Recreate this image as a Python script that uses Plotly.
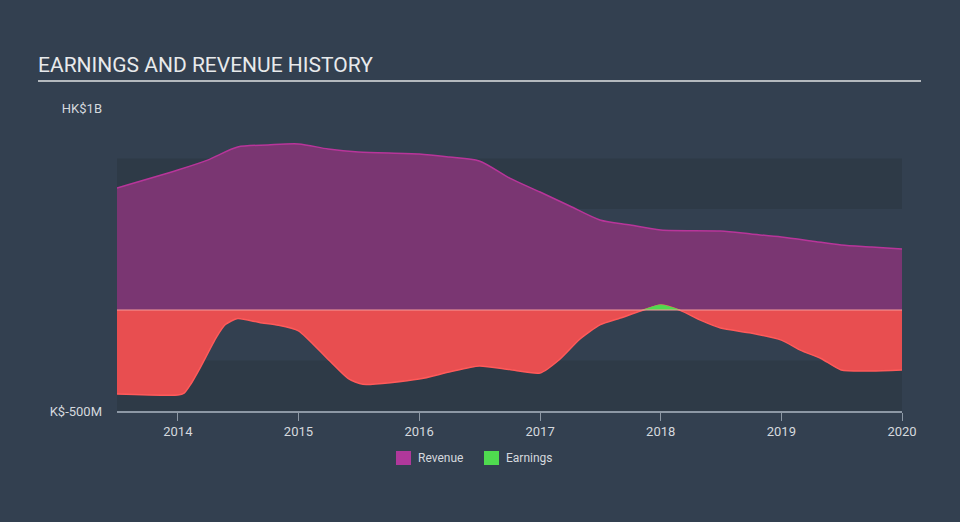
import plotly.graph_objects as go

rev_dates = ["2013-07-01", "2014-01-01", "2014-04-01", "2014-07-01", "2014-10-01", "2015-01-01",
             "2015-04-01", "2015-07-01", "2016-01-01", "2016-04-01", "2016-07-01", "2016-10-01",
             "2017-01-01", "2017-04-01", "2017-07-01", "2017-10-01", "2018-01-01", "2018-07-01",
             "2018-10-01", "2019-01-01", "2019-04-01", "2019-07-01", "2019-10-01", "2020-01-01"]
revenue = [604, 693, 742, 807, 817, 822, 797, 782, 772, 757, 738, 653,
           584, 515, 446, 421, 396, 391, 376, 361, 342, 322, 312, 302]

earn_dates = ["2013-07-01", "2014-01-01", "2014-01-20", "2014-02-10", "2014-03-10", "2014-04-28",
              "2014-05-25", "2014-07-01", "2014-09-05", "2014-11-01", "2015-01-01", "2015-04-01",
              "2015-06-01", "2015-07-15", "2016-01-01", "2016-04-01", "2016-07-01", "2016-10-01",
              "2017-01-01", "2017-03-01", "2017-05-01", "2017-07-01", "2017-09-01", "2017-11-01",
              "2018-01-01", "2018-03-01", "2018-05-01", "2018-07-01", "2018-10-01", "2019-01-01",
              "2019-03-01", "2019-05-01", "2019-07-01", "2019-10-01", "2020-01-01"]
earnings = [-416, -421, -412, -365, -285, -134, -72, -42, -62, -75, -103, -245,
            -340, -368, -342, -307, -277, -295, -312, -245, -145, -74, -40, -5,
            25, -2, -50, -89, -114, -149, -200, -240, -297, -302, -297]

year_ticks = ["2014-01-01", "2015-01-01", "2016-01-01", "2017-01-01", "2018-01-01", "2019-01-01", "2020-01-01"]
year_labels = ["2014", "2015", "2016", "2017", "2018", "2019", "2020"]
y_tickvals = [-500, 1000]
y_ticktext = ["K$-500M", "HK$1B"]
legend_names = ["Revenue", "Earnings"]

BG = "#334050"
BAND = "#2e3a47"
PURPLE_FILL = "#7a3672"
PURPLE_LINE = "#b8359a"
RED_FILL = "#e84e50"
RED_LINE = "#ff5a5a"
GREEN = "#4fdb4f"
LEGEND_COLORS = ["#b0389b", GREEN]

# plot area in pixels
L, R, T, B = 117, 902, 108, 411
W, H = R - L, B - T


def px(x):
    return (x - L) / W


def py(y):
    return (B - y) / H


fig = go.Figure()

fig.add_trace(go.Scatter(
    x=rev_dates, y=revenue, mode="lines", line=dict(color=PURPLE_LINE, width=1.5, shape="spline", smoothing=0.8),
    fill="tozeroy", fillcolor=PURPLE_FILL, name="Revenue", showlegend=False, hoverinfo="skip"))

fig.add_trace(go.Scatter(
    x=earn_dates, y=earnings, mode="lines", line=dict(color=RED_LINE, width=1.5, shape="spline", smoothing=0.6),
    fill="tozeroy", fillcolor=RED_FILL, name="Earnings", showlegend=False, hoverinfo="skip"))

# positive earnings, clipped to the area above zero via a second y axis
fig.add_trace(go.Scatter(
    x=earn_dates, y=earnings, mode="lines", line=dict(color=GREEN, width=1, shape="spline", smoothing=0.6),
    fill="tozeroy", fillcolor=GREEN, yaxis="y2", showlegend=False, hoverinfo="skip"))

ymin, ymax = -500, 1000
zero_frac = (0 - ymin) / (ymax - ymin)

fig.update_layout(
    width=960, height=522,
    paper_bgcolor=BG, plot_bgcolor="rgba(0,0,0,0)",
    margin=dict(l=L, r=960 - R, t=T, b=522 - B),
    font=dict(family="Roboto, sans-serif", color="#d5d9de", size=13),
    xaxis=dict(type="date", range=["2013-07-01", "2020-01-01"], tickvals=year_ticks, ticktext=year_labels,
               showgrid=False, zeroline=False, showline=True, linecolor="#8d98a5", linewidth=1.5,
               ticks="outside", ticklen=8, tickcolor="#8d98a5", tickfont=dict(size=13, color="#d5d9de")),
    yaxis=dict(range=[ymin, ymax], tickvals=y_tickvals, ticktext=y_ticktext, showgrid=False, zeroline=False,
               ticks="", ticklabelstandoff=14, tickfont=dict(size=13, color="#d5d9de"), domain=[0, 1]),
    yaxis2=dict(range=[0, ymax], domain=[zero_frac, 1], anchor="x", visible=False,
                showgrid=False, zeroline=False),
    showlegend=False,
)

# background bands
for y0, y1 in [(500, 750), (0, 250), (-500, -250)]:
    fig.add_shape(type="rect", xref="x domain", yref="y", x0=0, x1=1, y0=y0, y1=y1,
                  fillcolor=BAND, line=dict(width=0), layer="below")

# zero line on top
fig.add_shape(type="line", xref="x domain", yref="y", x0=0, x1=1, y0=0, y1=0,
              line=dict(color="#f59a9a", width=1), layer="above")

# title and underline
fig.add_annotation(text="EARNINGS AND REVENUE HISTORY", xref="paper", yref="paper",
                   x=px(36), y=py(79), xanchor="left", yanchor="bottom",
                   showarrow=False, font=dict(size=21, color="#e8eaec"))
fig.add_shape(type="line", xref="paper", yref="paper",
              x0=px(38), x1=px(921), y0=py(81), y1=py(81),
              line=dict(color="#b4b9be", width=2))

# legend (manual)
for name, color, sx in zip(legend_names, LEGEND_COLORS, [396, 484]):
    fig.add_shape(type="rect", xref="paper", yref="paper",
                  x0=px(sx), x1=px(sx + 15), y0=py(451), y1=py(465),
                  fillcolor=color, line=dict(width=0))
    fig.add_annotation(text=name, xref="paper", yref="paper", x=px(sx + 20), y=py(458),
                       xanchor="left", yanchor="middle", showarrow=False,
                       font=dict(size=12, color="#d5d9de"))

fig.write_html("out.html")
